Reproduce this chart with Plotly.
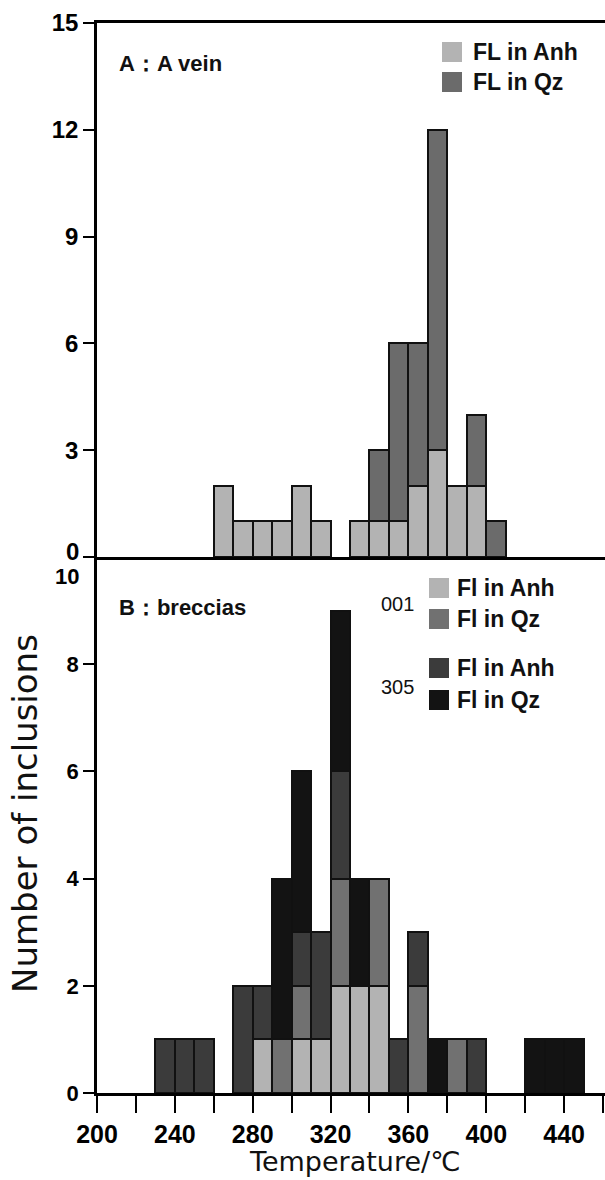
import plotly.graph_objects as go

# ---------------- data ----------------
# Panel A (A vein): 10 degC bins, left edges
a_bins = [260, 270, 280, 290, 300, 310, 320, 330, 340, 350, 360, 370, 380, 390, 400]
a_fl_anh = [2, 1, 1, 1, 2, 1, 0, 1, 1, 1, 2, 3, 2, 2, 0]
a_fl_qz = [0, 0, 0, 0, 0, 0, 0, 0, 2, 5, 4, 9, 0, 2, 1]

# Panel B (breccias): 10 degC bins, left edges
b_bins = [230, 240, 250, 260, 270, 280, 290, 300, 310, 320, 330, 340, 350,
          360, 370, 380, 390, 400, 410, 420, 430, 440]
b_001_anh = [0, 0, 0, 0, 0, 1, 0, 1, 1, 2, 2, 2, 0, 0, 0, 0, 0, 0, 0, 0, 0, 0]
b_001_qz = [0, 0, 0, 0, 0, 0, 1, 1, 0, 2, 0, 2, 0, 2, 0, 1, 0, 0, 0, 0, 0, 0]
b_305_anh = [1, 1, 1, 0, 2, 1, 0, 1, 2, 2, 0, 0, 1, 1, 0, 0, 1, 0, 0, 0, 0, 0]
b_305_qz = [0, 0, 0, 0, 0, 0, 3, 3, 0, 3, 2, 0, 0, 0, 1, 0, 0, 0, 0, 1, 1, 1]

bin_width = 10
a_yticks = [0, 3, 6, 9, 12, 15]
a_yticktext = ["", "3", "6", "9", "12", "15"]
b_yticks = [0, 2, 4, 6, 8, 10]
b_yticktext = ["0", "2", "4", "6", "8", ""]
x_range = [200, 461]

# ---------------- style ----------------
C_LIGHT = "#b3b3b3"
C_MED = "#717171"
C_TOP_QZ = "#6b6b6b"
C_DARK = "#3b3b3b"
C_BLACK = "#131313"
EDGE = "#111111"
FONT = "Liberation Sans"

W, H = 605, 1180
ML, MR, MT, MB = 97, 0, 23, 87
PW = W - ML - MR
PH = H - MT - MB
split = (1093 - 557) / PH


def nz(v):
    return [x if x else None for x in v]


def centers(bins):
    return [b + bin_width / 2 for b in bins]


fig = go.Figure()

bar_line = dict(color=EDGE, width=2.5)

fig.add_trace(go.Bar(x=centers(a_bins), y=nz(a_fl_anh), width=bin_width,
                     marker=dict(color=C_LIGHT, line=bar_line),
                     name="FL in Anh", xaxis="x", yaxis="y", showlegend=False))
fig.add_trace(go.Bar(x=centers(a_bins), y=nz(a_fl_qz), width=bin_width,
                     marker=dict(color=C_TOP_QZ, line=bar_line),
                     name="FL in Qz", xaxis="x", yaxis="y", showlegend=False))

for vals, col, nm in [(b_001_anh, C_LIGHT, "001 Fl in Anh"),
                      (b_001_qz, C_MED, "001 Fl in Qz"),
                      (b_305_anh, C_DARK, "305 Fl in Anh"),
                      (b_305_qz, C_BLACK, "305 Fl in Qz")]:
    fig.add_trace(go.Bar(x=centers(b_bins), y=nz(vals), width=bin_width,
                         marker=dict(color=col, line=bar_line),
                         name=nm, xaxis="x2", yaxis="y2", showlegend=False))

tickfont_top = dict(family=FONT, size=24, color="black", weight="bold")
tickfont_bot = dict(family=FONT, size=22, color="black", weight="bold")

fig.update_layout(
    width=W, height=H,
    margin=dict(l=ML, r=MR, t=MT, b=MB),
    paper_bgcolor="white", plot_bgcolor="white",
    barmode="stack", bargap=0,
    showlegend=False,
    xaxis=dict(domain=[0, 1], anchor="y", range=x_range, showgrid=False,
               zeroline=False, showline=True, mirror=True, linecolor="black",
               linewidth=2.5, ticks="", showticklabels=False),
    yaxis=dict(domain=[split, 1], anchor="x", range=[0, 15], showgrid=False,
               zeroline=False, showline=True, linecolor="black", linewidth=2.5,
               tickvals=a_yticks, ticktext=a_yticktext, ticks="outside",
               ticklen=11, tickwidth=2, tickcolor="black", tickfont=tickfont_top),
    xaxis2=dict(domain=[0, 1], anchor="y2", range=x_range, showgrid=False,
                zeroline=False, showline=True, linecolor="black", linewidth=2.5,
                tick0=200, dtick=40, ticks="outside", ticklen=17, tickwidth=2,
                tickcolor="black",
                tickfont=dict(family=FONT, size=25, color="black", weight="bold"),
                minor=dict(tick0=200, dtick=20, ticks="outside", ticklen=17,
                           tickwidth=2, tickcolor="black", showgrid=False)),
    yaxis2=dict(domain=[0, split], anchor="x2", range=[0, 10], showgrid=False,
                zeroline=False, showline=True, linecolor="black", linewidth=2.5,
                tickvals=b_yticks, ticktext=b_yticktext, ticks="outside",
                ticklen=11, tickwidth=2, tickcolor="black", tickfont=tickfont_bot),
)


def px_x(x):
    return (x - ML) / PW


def px_y(y):
    return (MT + PH - y) / PH


ann = []
shapes = []

# "0" of upper panel and "10" of lower panel, set apart as in the original
ann.append(dict(text="0", x=px_x(81), y=px_y(551), xref="paper", yref="paper",
                xanchor="right", yanchor="middle", showarrow=False,
                font=tickfont_top))
ann.append(dict(text="10", x=px_x(81), y=px_y(576), xref="paper", yref="paper",
                xanchor="right", yanchor="middle", showarrow=False,
                font=tickfont_bot))

# panel titles
title_font = dict(family=FONT, size=22, color="#111111", weight="bold")
ann.append(dict(text="A：A vein", x=px_x(117), y=px_y(63), xref="paper",
                yref="paper", xanchor="left", yanchor="middle",
                showarrow=False, font=title_font))
ann.append(dict(text="B：breccias", x=px_x(117), y=px_y(607), xref="paper",
                yref="paper", xanchor="left", yanchor="middle",
                showarrow=False, font=title_font))

# legends
leg_font = dict(family=FONT, size=23, color="#111111", weight="bold")
top_leg = [(C_LIGHT, "FL in Anh", 52), (C_TOP_QZ, "FL in Qz", 82)]
for col, txt, cy in top_leg:
    shapes.append(dict(type="rect", xref="paper", yref="paper",
                       x0=px_x(442), x1=px_x(462), y0=px_y(cy + 10), y1=px_y(cy - 10),
                       fillcolor=col, line=dict(width=0)))
    ann.append(dict(text=txt, x=px_x(471), y=px_y(cy), xref="paper", yref="paper",
                    xanchor="left", yanchor="middle", showarrow=False, font=leg_font))

bot_leg = [(C_LIGHT, "Fl in Anh", 588), (C_MED, "Fl in Qz", 619),
           (C_DARK, "Fl in Anh", 668), (C_BLACK, "Fl in Qz", 700)]
for col, txt, cy in bot_leg:
    shapes.append(dict(type="rect", xref="paper", yref="paper",
                       x0=px_x(429), x1=px_x(449), y0=px_y(cy + 10), y1=px_y(cy - 10),
                       fillcolor=col, line=dict(width=0)))
    ann.append(dict(text=txt, x=px_x(455), y=px_y(cy), xref="paper", yref="paper",
                    xanchor="left", yanchor="middle", showarrow=False, font=leg_font))

sample_font = dict(family=FONT, size=20, color="#111111")
ann.append(dict(text="001", x=px_x(416), y=px_y(604), xref="paper", yref="paper",
                xanchor="right", yanchor="middle", showarrow=False, font=sample_font))
ann.append(dict(text="305", x=px_x(416), y=px_y(687), xref="paper", yref="paper",
                xanchor="right", yanchor="middle", showarrow=False, font=sample_font))

# axis titles
ann.append(dict(text="Temperature/℃", x=px_x(354), y=px_y(1161), xref="paper",
                yref="paper", xanchor="center", yanchor="middle", showarrow=False,
                font=dict(family="DejaVu Sans", size=27, color="#111111")))
ann.append(dict(text="Number of inclusions", x=px_x(25), y=px_y(814), xref="paper",
                yref="paper", xanchor="center", yanchor="middle", showarrow=False,
                textangle=-90,
                font=dict(family="DejaVu Sans", size=34, color="#111111")))

fig.update_layout(annotations=ann, shapes=shapes)

fig.write_html(
    "out.html",
    config={"displayModeBar": False},
    post_script="document.body.style.margin='0';document.body.style.overflow='hidden';",
)
